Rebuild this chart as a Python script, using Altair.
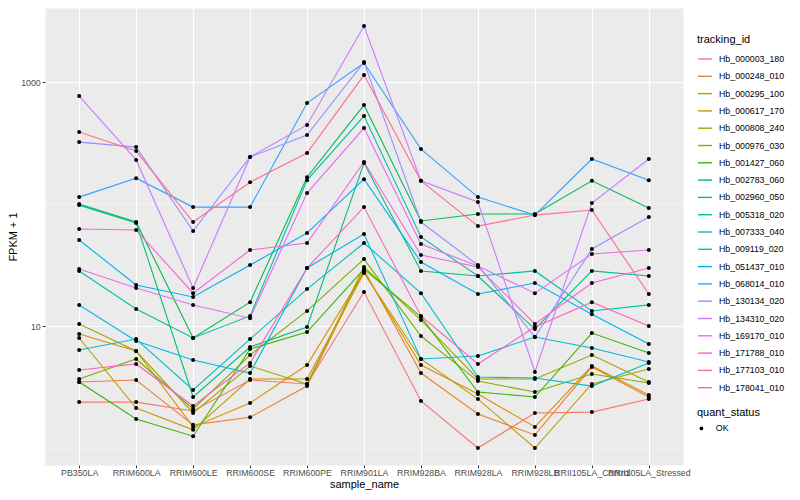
import altair as alt
import pandas as pd

samples = ["PB350LA", "RRIM600LA", "RRIM600LE", "RRIM600SE", "RRIM600PE", "RRIM901LA",
           "RRIM928BA", "RRIM928LA", "RRIM928LB", "RRII105LA_Control", "RRII105LA_Stressed"]

tracking_ids = ["Hb_000003_180", "Hb_000248_010", "Hb_000295_100", "Hb_000617_170", "Hb_000808_240",
                "Hb_000976_030", "Hb_001427_060", "Hb_002783_060", "Hb_002960_050", "Hb_005318_020",
                "Hb_007333_040", "Hb_009119_020", "Hb_051437_010", "Hb_068014_010", "Hb_130134_020",
                "Hb_134310_020", "Hb_169170_010", "Hb_171788_010", "Hb_177103_010", "Hb_178041_010"]

colors = ["#F8766D", "#EA8331", "#D89000", "#C09B00", "#A3A500", "#7CAE00", "#39B600", "#00BB4E",
          "#00BF7D", "#00C1A3", "#00BFC4", "#00BAE0", "#00B0F6", "#35A2FF", "#9590FF", "#C77CFF",
          "#E76BF3", "#FA62DB", "#FF62BC", "#FF6C91"]

# FPKM + 1 per sample (order of `samples`)
hb_000003_180 = [2.38, 2.38, 2.01, 3.61, 3.35, 19.0, 2.43, 1.00, 1.94, 1.97, 2.52]
hb_000248_010 = [3.48, 3.61, 1.55, 1.79, 3.22, 28.8, 4.12, 1.90, 1.28, 4.61, 2.62]
hb_000295_100 = [8.60, 6.24, 1.49, 2.34, 4.79, 27.7, 4.79, 2.77, 1.49, 4.70, 2.72]
hb_000617_170 = [7.98, 2.13, 1.41, 3.68, 3.68, 27.2, 5.37, 2.52, 1.00, 3.35, 4.44]
hb_000808_240 = [10.4, 6.24, 1.94, 4.70, 3.35, 30.5, 11.2, 3.68, 3.68, 5.78, 3.48]
hb_000976_030 = [3.68, 5.37, 2.09, 5.78, 13.3, 35.4, 8.28, 3.54, 2.88, 4.04, 3.41]
hb_001427_060 = [3.48, 1.73, 1.25, 6.48, 8.93, 29.3, 11.9, 2.88, 2.62, 8.76, 6.01]
hb_002783_060 = [100, 71.2, 7.98, 15.7, 166, 647, 72.6, 82.8, 82.8, 155, 92.7]
hb_002960_050 = [98, 70, 2.62, 6.73, 9.82, 217, 28.3, 25.7, 9.45, 28.3, 25.7]
hb_005318_020 = [28.3, 13.8, 7.98, 12.1, 157, 526, 53.7, 25.7, 28.3, 13.3, 14.9]
hb_007333_040 = [6.36, 7.82, 2.99, 7.82, 20.1, 47.9, 18.6, 3.82, 3.75, 3.22, 4.98]
hb_009119_020 = [14.9, 7.53, 5.27, 4.12, 29.9, 56.8, 5.37, 5.68, 8.13, 6.61, 5.07]
hb_051437_010 = [50.7, 21.7, 17.3, 31.6, 57.8, 160, 33.5, 18.3, 22.5, 12.5, 7.11]
hb_068014_010 = [114, 163, 94.4, 94.4, 673, 1432, 282, 114, 81.2, 234, 157]
hb_130134_020 = [322, 293, 60.1, 243, 368, 1459, 71.2, 31.6, 8.13, 42.8, 78.2]
hb_134310_020 = [768, 230, 20.5, 243, 445, 2877, 155, 104, 4.20, 102, 234]
hb_169170_010 = [29.3, 20.5, 14.9, 11.6, 123, 420, 47.0, 31.0, 18.6, 38.9, 42.0]
hb_171788_010 = [62.4, 61.2, 18.6, 42.0, 47.9, 221, 38.2, 30.5, 10.4, 22.5, 29.9]
hb_177103_010 = [4.36, 4.89, 2.21, 4.98, 29.9, 94.4, 12.1, 4.89, 9.82, 15.7, 10.0]
hb_178041_010 = [389, 272, 71.2, 151, 262, 1141, 155, 66.0, 81.2, 89.3, 18.3]

series = [hb_000003_180, hb_000248_010, hb_000295_100, hb_000617_170, hb_000808_240,
          hb_000976_030, hb_001427_060, hb_002783_060, hb_002960_050, hb_005318_020,
          hb_007333_040, hb_009119_020, hb_051437_010, hb_068014_010, hb_130134_020,
          hb_134310_020, hb_169170_010, hb_171788_010, hb_177103_010, hb_178041_010]

minor_breaks = [1, 100]
major_breaks = [10, 1000]

rows = []
for tid, vals in zip(tracking_ids, series):
    for i, (s, v) in enumerate(zip(samples, vals)):
        rows.append({"tracking_id": tid, "sample_name": s, "sample_idx": i,
                     "fpkm": v, "quant_status": "OK"})
df = pd.DataFrame(rows)

yscale = alt.Scale(type="log", domain=[0.726, 4046], nice=False)
xscale = alt.Scale(type="point", padding=0.6)

x_enc = alt.X("sample_name:N", sort=samples, scale=xscale,
              axis=alt.Axis(title="sample_name", grid=True, labelAngle=0, labelOverlap=False,
                            labelBound=False, labelPadding=1, titlePadding=1))
y_enc = alt.Y("fpkm:Q", scale=yscale,
              axis=alt.Axis(title="FPKM + 1", values=major_breaks, format="d", grid=True,
                            labelPadding=2, titlePadding=2))

minor = alt.Chart(pd.DataFrame({"fpkm": minor_breaks})).mark_rule(
    color="white", strokeWidth=0.6).encode(y=alt.Y("fpkm:Q", scale=yscale))

lines = alt.Chart(df).mark_line(strokeWidth=1.1).encode(
    x=x_enc, y=y_enc,
    color=alt.Color("tracking_id:N", scale=alt.Scale(domain=tracking_ids, range=colors),
                    legend=alt.Legend(title="tracking_id", orient="none", legendX=652, legendY=26,
                                      symbolType="stroke", symbolSize=196, symbolStrokeWidth=1.4,
                                      rowPadding=4.3, labelFontSize=8.8, titleFontSize=11,
                                      titleFontWeight="normal", titleColor="black",
                                      labelColor="black", padding=0, titlePadding=6,
                                      labelOffset=6)),
    order=alt.Order("sample_idx:Q"),
)

points = alt.Chart(df).mark_point(filled=True, size=16, color="black", opacity=1).encode(
    x=x_enc, y=y_enc,
    shape=alt.Shape("quant_status:N", scale=alt.Scale(domain=["OK"], range=["circle"]),
                    legend=alt.Legend(title="quant_status", orient="none", legendX=652, legendY=399,
                                      symbolType="square", symbolSize=14, symbolFillColor="black",
                                      symbolStrokeColor="black", labelFontSize=8.8, titleFontSize=11,
                                      titleFontWeight="normal", titleColor="black",
                                      labelColor="black", padding=0, titlePadding=6,
                                      labelOffset=10)),
)

chart = alt.layer(minor, lines, points).properties(
    width=638, height=457,
    autosize=alt.AutoSizeParams(type="none"),
    padding={"left": 37, "top": 0, "right": 109, "bottom": 27},
).configure(font="Liberation Sans").configure_view(
    fill="#EBEBEB", stroke="transparent"
).configure_axis(
    gridColor="white", gridWidth=1.1, domain=False, tickColor="#333333", tickSize=2.75,
    labelColor="#4D4D4D", labelFontSize=8.8, titleFontSize=11, titleFontWeight="normal",
    titleColor="black"
)

chart.save("out.html", embed_options={"renderer": "svg", "actions": False})
